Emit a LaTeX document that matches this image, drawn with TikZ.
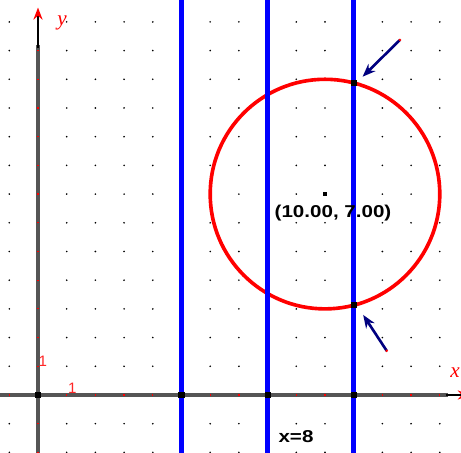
\documentclass[tikz,border=0pt]{standalone}
\usepackage{fontspec}
\newfontfamily\lab[FakeStretch=1.2]{Liberation Sans}
\newfontfamily\axfont{Liberation Serif}
\newfontfamily\numfont{Liberation Sans}
\usetikzlibrary{arrows.meta}
\definecolor{axisgray}{HTML}{555555}
\definecolor{navyarrow}{HTML}{000080}
\begin{document}
\begin{tikzpicture}[x=1cm,y=1cm,
  vline/.style={blue,line width=4.5pt},
  ptbox/.style={fill=black,inner sep=0pt,minimum size=6pt},
  axisline/.style={axisgray,line width=3pt},
  pointer/.style={navyarrow,line width=2.6pt,-{Stealth[length=13pt,width=10pt]}},
  bigtext/.style={font=\lab\bfseries\fontsize{17}{20}\selectfont,inner sep=0pt,anchor=base},
  axlab/.style={red,font=\axfont\itshape\fontsize{21}{22}\selectfont,inner sep=0pt},
  numlab/.style={red!85!white,font=\numfont\fontsize{15}{16}\selectfont,inner sep=0pt}]
\useasboundingbox (-1.324,-2.021) rectangle (14.739,13.763);
\fill[white] (-1.324,-2.021) rectangle (14.739,13.763);
% grid dots
\foreach \x in {-1,...,14}
  \foreach \y in {-2,...,13}
    \fill (\x,\y) circle (0.9pt);
% axes
\draw[axisline] (-1.4,0) -- (14.3,0);
\draw[black,line width=2.4pt,-{Stealth[red,length=12pt,width=9pt]}] (14.2,0) -- (15.05,0);
\draw[axisline] (0,-2.1) -- (0,12.2);
\draw[black,line width=2.4pt,-{Stealth[red,length=12pt,width=9pt]}] (0,12.1) -- (0,13.5);
% ticks
\foreach \x in {-1,1,2,...,14}
  \draw[red,line width=1.2pt] (\x,-0.04) -- (\x,0.04);
\foreach \y in {-2,-1,1,2,...,12}
  \draw[red,line width=1.2pt] (-0.04,\y) -- (0.04,\y);
% axis labels
\node[axlab] (ylab) at (0.84,12.95) {y};
\node[axlab,anchor=east] (xlab) at (14.70,0.77) {x};
\node[numlab] (one1) at (0.17,1.18) {1};
\node[numlab] (one2) at (1.2,0.23) {1};
% circle
\draw[red,line width=3.6pt] (10,7) circle (4);
% vertical lines
\draw[vline] (5,-2.1) -- (5,13.9);
\draw[vline] (8,-2.1) -- (8,13.9);
\draw[vline] (11,-2.1) -- (11,13.9);
% points
\node[ptbox] (o) at (0,0) {};
\node[ptbox] (a5) at (5,0) {};
\node[ptbox] (a8) at (8,0) {};
\node[ptbox] (a11) at (11,0) {};
\node[ptbox] (top) at (11,10.873) {};
\node[ptbox] (bot) at (11,3.127) {};
\node[fill=black,inner sep=0pt,minimum size=4pt] (c) at (10,7) {};
% pointers
\coordinate (t1) at (12.61,12.37);
\coordinate (h1) at (11.31,11.09);
\coordinate (t2) at (12.15,1.54);
\coordinate (h2) at (11.33,2.79);
\draw[pointer] (t1) -- (h1);
\draw[pointer] (t2) -- (h2);
\fill[red] (t1) circle (1.4pt);
\fill[red] (t2) circle (1.4pt);
% texts
\node[bigtext] (clab) at (10.28,6.20) {(10.00, 7.00)};
\node[bigtext] (xeq) at (8.99,-1.67) {x=8};
\end{tikzpicture}
\end{document}
